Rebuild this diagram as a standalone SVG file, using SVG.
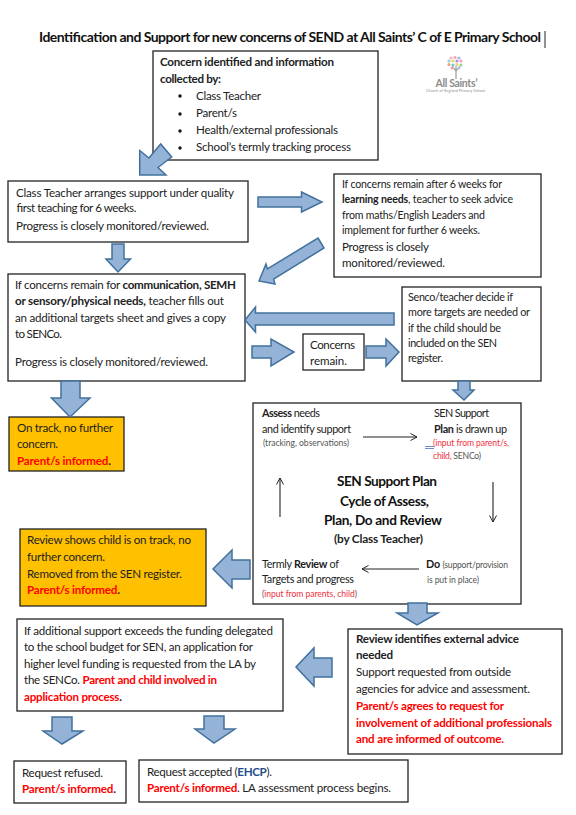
<svg xmlns="http://www.w3.org/2000/svg" width="576" height="815" viewBox="0 0 576 815">
<style>
text{font-family:Lato,"Open Sans","Liberation Sans",sans-serif;font-size:11.6px;fill:#222}
.b{font-weight:700}
.r{fill:#f00;font-weight:700}
.s{font-size:8.6px;fill:#555}
.rs{font-size:8.6px;fill:#f03040}
.box{fill:#fff;stroke:#222;stroke-width:1.3}
.or{fill:#ffc000;stroke:#222;stroke-width:1.3}
.blk{fill:#95b3d7;stroke:#41719c;stroke-width:1.5;stroke-linejoin:miter}
.thin{fill:none;stroke:#222;stroke-width:1.1;marker-end:url(#open)}
.h{font-size:13.6px;font-weight:700;fill:#111}
</style>
<defs>
<marker id="open" markerUnits="userSpaceOnUse" markerWidth="10" markerHeight="10" refX="7" refY="4" orient="auto"><path d="M0.5 0.5L7 4L0.5 7.5" fill="none" stroke="#222" stroke-width="1"/></marker>
</defs>
<rect width="576" height="815" fill="#fff"/>
<g id="title">
<text class="h" x="39" y="42" textLength="502" style="font-size:14px">Identification and Support for new concerns of SEND at All Saints’ C of E Primary School</text>
<path d="M545 31V48" stroke="#222" stroke-width="1"/>
</g>
<g id="logo">
<path d="M456 66V79M456 71L452 66M456 71L460 66" stroke="#999" stroke-width="1.2" fill="none"/>
<g>
<circle cx="451" cy="58" r="1.6" fill="#f7b6c8"/><circle cx="455" cy="57.5" r="1.6" fill="#f5a0b0"/><circle cx="459" cy="58" r="1.6" fill="#9bc0e8"/>
<circle cx="449" cy="61" r="1.6" fill="#8fd8d0"/><circle cx="453" cy="61" r="1.6" fill="#f6d070"/><circle cx="457" cy="61" r="1.6" fill="#b48fd8"/><circle cx="461" cy="61" r="1.6" fill="#f2a0c0"/>
<circle cx="449" cy="64.5" r="1.6" fill="#f4a070"/><circle cx="453" cy="65" r="1.6" fill="#70c8e0"/><circle cx="457" cy="64.5" r="1.6" fill="#f6d070"/><circle cx="461" cy="65" r="1.6" fill="#90d890"/>
<circle cx="452" cy="68" r="1.5" fill="#f2a0c0"/><circle cx="459" cy="68" r="1.5" fill="#b0c0e8"/>
</g>
<text x="435.500" y="87" textLength="42" style="font-size:10.5px;font-weight:700;fill:#8c8c8c">All Saints’</text>
<text x="426" y="92" textLength="59" style="font-size:3.6px;fill:#888">Church of England Primary School</text>
</g>
<g id="node-concern">
<rect class="box" x="153" y="51" width="225" height="109"/>
<text class="b" x="160" y="66" textLength="174">Concern identified and information</text>
<text class="b" x="160" y="82.500" textLength="61">collected by:</text>
<g fill="#111"><circle cx="180" cy="96" r="1.700"/><circle cx="180" cy="114" r="1.700"/><circle cx="180" cy="131" r="1.700"/><circle cx="180" cy="148" r="1.700"/></g>
<text x="196" y="99.500" textLength="65">Class Teacher</text>
<text x="196" y="117" textLength="41">Parent/s</text>
<text x="196" y="134" textLength="142">Health/external professionals</text>
<text x="196" y="151" textLength="155">School’s termly tracking process</text>
</g>
<g id="node-class-teacher">
<rect class="box" x="8" y="181" width="240" height="61"/>
<text x="16" y="197" textLength="218">Class Teacher arranges support under quality</text>
<text x="16" y="212" textLength="120">first teaching for 6 weeks.</text>
<text x="16" y="230" textLength="193">Progress is closely monitored/reviewed.</text>
</g>
<g id="node-learning">
<rect class="box" x="334" y="174" width="207" height="103"/>
<text x="342" y="188" textLength="160" style="font-size:10.600px">If concerns remain after 6 weeks for</text>
<text x="342" y="203" textLength="171" style="font-size:10.600px"><tspan class="b">learning needs</tspan>, teacher to seek advice</text>
<text x="342" y="219" textLength="143" style="font-size:10.600px">from maths/English Leaders and</text>
<text x="342" y="234" textLength="138" style="font-size:10.600px">implement for further 6 weeks.</text>
<text x="342" y="251" textLength="87">Progress is closely</text>
<text x="342" y="267" textLength="103">monitored/reviewed.</text>
</g>
<g id="node-communication">
<rect class="box" x="8" y="274" width="237" height="107"/>
<text x="15" y="289" textLength="221">If concerns remain for <tspan class="b">communication, SEMH</tspan></text>
<text x="15" y="305" textLength="209"><tspan class="b">or sensory/physical needs,</tspan> teacher fills out</text>
<text x="15" y="322" textLength="211">an additional targets sheet and gives a copy</text>
<text x="15" y="338" textLength="47">to SENCo.</text>
<text x="15" y="366" textLength="193">Progress is closely monitored/reviewed.</text>
</g>
<g id="node-senco">
<rect class="box" x="402" y="287" width="139" height="94"/>
<text x="408" y="301" textLength="105" style="font-size:10.800px">Senco/teacher decide if</text>
<text x="408" y="316" textLength="122" style="font-size:10.800px">more targets are needed or</text>
<text x="408" y="332" textLength="93" style="font-size:10.800px">if the child should be</text>
<text x="408" y="347" textLength="89" style="font-size:10.800px">included on the SEN</text>
<text x="408" y="362" textLength="35" style="font-size:10.800px">register.</text>
</g>
<g id="node-concerns-remain">
<rect class="box" x="303" y="334" width="61" height="36"/>
<text x="310" y="349" textLength="45">Concerns</text>
<text x="310" y="365" textLength="37">remain.</text>
</g>
<g id="node-on-track">
<rect class="or" x="9" y="417" width="115" height="54"/>
<text x="17" y="432" textLength="96">On track, no further</text>
<text x="17" y="448" textLength="41">concern.</text>
<text x="17" y="465" textLength="94"><tspan class="r">Parent/s informed</tspan><tspan class="b">.</tspan></text>
</g>
<g id="node-cycle">
<rect class="box" x="253" y="403" width="268" height="201"/>
<text x="262" y="417" textLength="58" style="font-size:10.800px"><tspan class="b">Assess</tspan> needs</text>
<text x="262" y="433" textLength="89" style="font-size:10.800px">and identify support</text>
<text class="s" x="263" y="446" textLength="86">(tracking, observations)</text>
<text x="434" y="417" textLength="55" style="font-size:10.800px">SEN Support</text>
<text x="434" y="433" textLength="73" style="font-size:10.800px"><tspan class="b">Plan</tspan> is drawn up</text>
<text class="rs" x="433" y="446" textLength="76">(input from parent/s,</text>
<text class="s" x="433" y="459" textLength="48"><tspan class="rs">child,</tspan> SENCo)</text>
<path d="M425 446.500H434M425 448.500H434" stroke="#4472c4" stroke-width="0.800"/>
<text class="h" x="337" y="486" textLength="100">SEN Support Plan</text>
<text class="h" x="340" y="506" textLength="89">Cycle of Assess,</text>
<text class="h" x="324" y="525" textLength="118">Plan, Do and Review</text>
<text class="b" x="334" y="543" textLength="89" style="font-size:11.800px">(by Class Teacher)</text>
<text x="262" y="568" textLength="77" style="font-size:10.800px">Termly <tspan class="b">Review</tspan> of</text>
<text x="262" y="583" textLength="92" style="font-size:10.800px">Targets and progress</text>
<text class="rs" x="262" y="597" textLength="95"><tspan class="s">(</tspan>input from parents, child<tspan class="s">)</tspan></text>
<text x="426" y="568" textLength="82" style="font-size:10.800px"><tspan class="b">Do</tspan> <tspan class="s">(support/provision</tspan></text>
<text class="s" x="427" y="583" textLength="52">is put in place)</text>
<path class="thin" d="M363 437H417"/>
<path class="thin" d="M493 482V522"/>
<path class="thin" d="M419 569H362"/>
<path class="thin" d="M280 517V478"/>
</g>
<g id="node-removed">
<rect class="or" x="20" y="529" width="186" height="77"/>
<text x="27" y="544" textLength="164">Review shows child is on track, no</text>
<text x="27" y="561" textLength="78">further concern.</text>
<text x="27" y="578" textLength="155">Removed from the SEN register.</text>
<text x="27" y="594" textLength="93"><tspan class="r">Parent/s informed</tspan><tspan class="b">.</tspan></text>
</g>
<g id="node-funding">
<rect class="box" x="17" y="619" width="266" height="92"/>
<text x="24" y="635" textLength="249">If additional support exceeds the funding delegated</text>
<text x="24" y="651" textLength="229">to the school budget for SEN, an application for</text>
<text x="24" y="668" textLength="232">higher level funding is requested from the LA by</text>
<text x="24" y="684" textLength="193">the SENCo. <tspan class="r">Parent and child involved in</tspan></text>
<text x="24" y="701" textLength="98"><tspan class="r">application process</tspan><tspan class="b">.</tspan></text>
</g>
<g id="node-external">
<rect class="box" x="348" y="629" width="214" height="125"/>
<text class="b" x="356" y="643" textLength="163">Review identifies external advice</text>
<text class="b" x="356" y="659" textLength="37">needed</text>
<text x="356" y="676" textLength="155">Support requested from outside</text>
<text x="356" y="693" textLength="174">agencies for advice and assessment.</text>
<text class="r" x="356" y="710" textLength="148">Parent/s agrees to request for</text>
<text class="r" x="356" y="727" textLength="196">involvement of additional professionals</text>
<text class="r" x="356" y="743" textLength="148">and are informed of outcome.</text>
</g>
<g id="node-refused">
<rect class="box" x="14" y="761" width="112" height="42"/>
<text x="22" y="777" textLength="81">Request refused.</text>
<text x="22" y="793" textLength="94"><tspan class="r">Parent/s informed</tspan><tspan class="b">.</tspan></text>
</g>
<g id="node-accepted">
<rect class="box" x="139" y="760" width="269" height="42"/>
<text x="147" y="776" textLength="125">Request accepted (<tspan class="b" style="fill:#1f4e8c">EHCP</tspan>).</text>
<text x="147" y="792" textLength="244"><tspan class="r">Parent/s informed</tspan>. LA assessment process begins.</text>
</g>
<g id="connectors">
<polygon class="blk" points="139.700,175 139.700,150.500 149,158 160.700,144 171.700,157 158,167.500 166,175"/>
<polygon class="blk" points="258,197 301.500,197 301.500,192 322,202 301.500,212 301.500,207 258,207"/>
<polygon class="blk" points="112,244 124,244 124,259 130.500,259 118,272 106,259 112,259"/>
<polygon class="blk" points="318,238 324,248 273.600,279.100 275,284 259,281 266,264 267.400,268.900"/>
<polygon class="blk" points="394,313 255.500,313 255.500,307 245,320 255.500,332 255.500,325 394,325"/>
<polygon class="blk" points="252,346 271,346 271,339 294,352 271,366 271,358 252,358"/>
<polygon class="blk" points="366,346 386,346 386,339 399,352 386,366 386,358 366,358"/>
<polygon class="blk" points="458,381 470,381 470,390 474,390 464,400 453,390 458,390"/>
<polygon class="blk" points="61,381 80,381 80,398 90,398 70,417 51.500,398 61,398"/>
<polygon class="blk" points="250,560 232,560 232,550 213,569 232,588 232,579 250,579"/>
<polygon class="blk" points="408,603 427,603 427,613 438,613 417,625 397,613 408,613"/>
<polygon class="blk" points="332,658 314,658 314,648 296,667 314,686 314,677 332,677"/>
<polygon class="blk" points="52,717 72,717 72,731 83,731 62,744 43,731 52,731"/>
<polygon class="blk" points="204,716 224,716 224,729 235,729 214,743 195,729 204,729"/>
</g>
</svg>
